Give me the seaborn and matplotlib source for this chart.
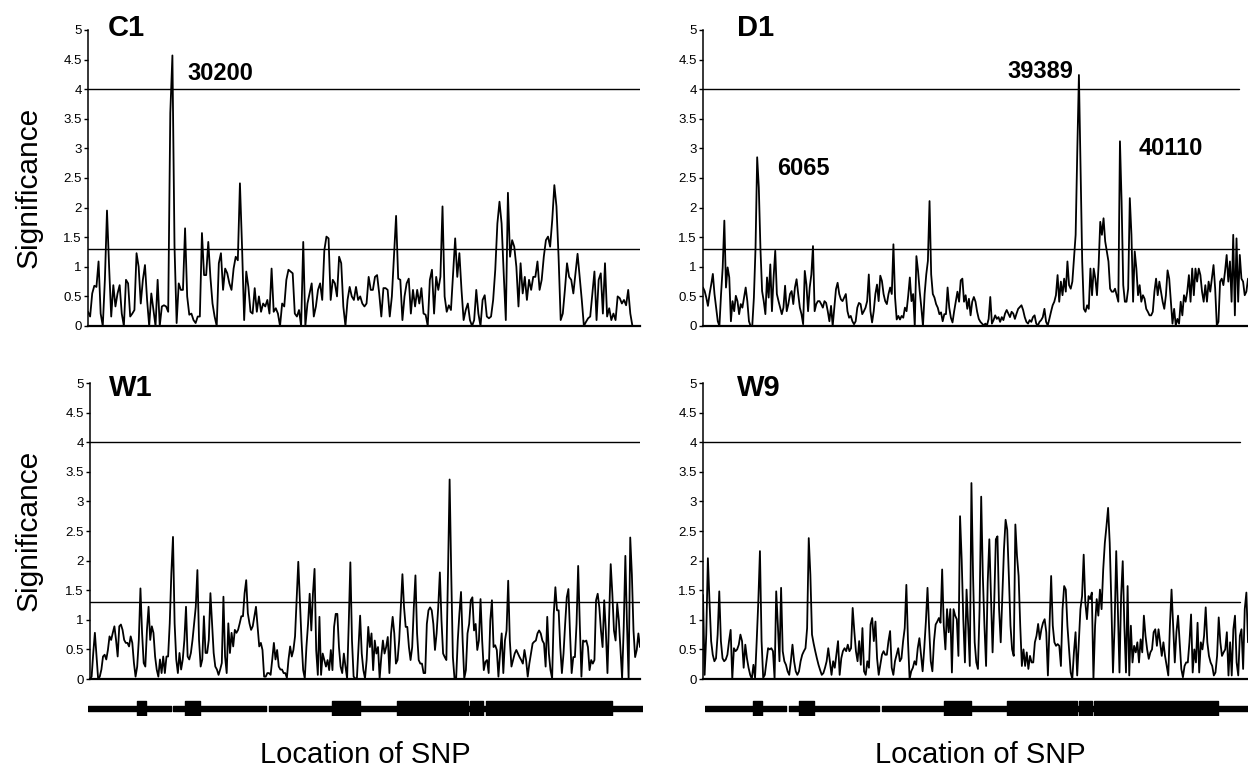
"""
Allelic association scans (C1, D1, W1, W9) along the gene.
Significance = -log10(p) per SNP, with the 1.3 and 4.0 thresholds,
and the exon/intron map of the gene under the bottom panels.
"""

import numpy as np
import matplotlib
matplotlib.use("Agg")
import matplotlib.pyplot as plt
import seaborn as sns

# --- significance per SNP, read left to right off the scans ---
C1_SIG = [
    0.24, 0.16, 0.55, 0.68, 0.66, 1.09, 0.21, 0, 0.78, 1.95, 1.0, 0.16, 0.69, 0.33, 0.55, 0.69,
    0.21, 0, 0.78, 0.72, 0.16, 0.21, 0.27, 1.23, 1.0, 0.38, 0.78, 1.03, 0.44, 0, 0.55, 0.27,
    0, 0.78, 0, 0.33, 0.35, 0.33, 0.24, 3.6, 4.57, 1.34, 0.05, 0.72, 0.61, 0.61, 1.65, 0.5,
    0.19, 0.21, 0.1, 0.05, 0.16, 0.16, 1.57, 0.86, 0.86, 1.42, 0.83, 0.38, 0.16, 0, 1.06, 1.23,
    0.61, 0.97, 0.89, 0.72, 0.61, 0.97, 1.17, 1.11, 2.41, 1.34, 0.1, 0.92, 0.66, 0.24, 0.21, 0.64,
    0.24, 0.5, 0.24, 0.38, 0.33, 0.44, 0.21, 0.97, 0.24, 0.3, 0.21, 0, 0.38, 0.33, 0.78, 0.95,
    0.92, 0.89, 0.21, 0.16, 0.27, 0, 1.42, 0, 0.38, 0.55, 0.72, 0.16, 0.33, 0.61, 0.72, 0.44,
    1.28, 1.51, 1.48, 0.44, 0.78, 0.72, 0.5, 1.17, 1.06, 0.33, 0, 0.44, 0.66, 0.5, 0.44,
    0.66, 0.44, 0.5, 0.38, 0.33, 0.38, 0.83, 0.61, 0.61, 0.83, 0.86, 0.55, 0.16, 0.64, 0.64, 0.61,
    0.16, 0.5, 1.17, 1.86, 0.8, 0.78, 0.1, 0.5, 0.72, 0.8, 0.21, 0.61, 0.33, 0.61, 0.38, 0.64,
    0.21, 0.19, 0, 0.78, 0.95, 0.21, 0.83, 0.61, 0.83, 2.02, 0.5, 0.24, 0.35, 0.27, 0.89, 1.48,
    0.83, 1.23, 0.61, 0.1, 0.27, 0.38, 0.1, 0, 0.1, 0.61, 0.21, 0, 0.44, 0.52, 0.16, 0.13,
    0.16, 0.44, 0.95, 1.73, 2.1, 1.73, 0.89, 0.1, 2.25, 1.17, 1.45, 1.34, 1.0, 0.33, 1.06, 0.55,
    0.83, 0.44, 0.78, 0.61, 0.83, 0.83, 1.09, 0.61, 0.78, 1.17, 1.45, 1.51, 1.34, 1.79, 2.38, 2.02,
    1.17, 0.1, 0.21, 0.61, 1.06, 0.83, 0.78, 0.55, 0.89, 1.22, 0.83, 0.44, 0, 0.07, 0.13, 0.16,
    0.55, 0.92, 0.1, 0.78, 0.89, 0.21, 1.06, 0.16, 0.3, 0.1, 0.21, 0.1, 0.5, 0.47, 0.38, 0.44,
    0.35, 0.61, 0.21, 0, 0,
]

D1_SIG = [
    0.65, 0.59, 0.48, 0.34, 0.54, 0.7, 0.88, 0.54, 0.31, 0.08, 0, 0.54, 0.99, 1.78, 0.65, 0.99,
    0.82, 0.08, 0.42, 0.25, 0.51, 0.42, 0.2, 0.37, 0.31, 0.48, 0.65, 0.42, 0.08, 0, 0, 0.48,
    1.32, 2.85, 2.34, 1.3, 0.59, 0.42, 0.2, 0.82, 0.48, 1.04, 0.25, 0.82, 1.27, 0.54, 0.42, 0.31,
    0.2, 0.31, 0.68, 0.25, 0.37, 0.54, 0.59, 0.37, 0.65, 0.79, 0.54, 0.31, 0.2, 0.03, 0.93, 0.7,
    0.25, 0.65, 0.87, 1.35, 0.25, 0.37, 0.42, 0.42, 0.37, 0.31, 0.42, 0.39, 0.25, 0.08, 0.34, 0,
    0.31, 0.62, 0.73, 0.54, 0.45, 0.42, 0.48, 0.54, 0.25, 0.14, 0.17, 0.08, 0.03, 0.08, 0.31, 0.39,
    0.37, 0.2, 0.25, 0.31, 0.42, 0.87, 0.25, 0.06, 0.25, 0.54, 0.7, 0.42, 0.85, 0.76, 0.54, 0.42,
    0.37, 0.54, 0.65, 0.54, 1.38, 0.48, 0.11, 0.17, 0.11, 0.17, 0.14, 0.31, 0.25, 0.51, 0.82, 0.42,
    0.54, 0, 1.18, 0.93, 0.59, 0.31, 0, 0.54, 0.87, 1.1, 2.11, 0.87, 0.54, 0.48, 0.37, 0.31,
    0.2, 0.23, 0.08, 0.2, 0.2, 0.65, 0.31, 0.14, 0.06, 0.25, 0.42,
    0.58, 0.41, 0.77, 0.8, 0.41, 0.52, 0.29, 0.46, 0.18, 0.41, 0.49, 0.41, 0.24, 0.12, 0.07, 0.04,
    0.01, 0.04, 0.01, 0.12, 0.49, 0.04, 0.1, 0.18, 0.12, 0.15, 0.07, 0.15, 0.1, 0.21, 0.27, 0.21,
    0.15, 0.24, 0.21, 0.12, 0.21, 0.29, 0.32, 0.35, 0.27, 0.15, 0.07, 0.04, 0.1, 0.07, 0.15, 0.18,
    0.04, 0.01, 0.07, 0.1, 0.15, 0.29, 0.07, 0.01, 0.12, 0.24, 0.35, 0.41, 0.52, 0.86, 0.41, 0.75,
    0.52, 0.8, 0.58, 1.09, 0.69, 0.63, 0.75, 1.14, 1.54, 2.95, 4.24, 2.67, 1.09, 0.29, 0.24, 0.35,
    0.29, 0.97, 0.52, 0.97, 0.8, 0.52, 1.03, 1.76, 1.54, 1.82, 1.43, 1.26, 1.09, 0.63, 0.58, 0.58,
    0.63, 0.52, 0.41, 3.12, 2.1, 0.69, 0.41, 0.41, 0.63, 2.16, 1.54, 0.41, 1.26, 0.97, 0.52, 0.69,
    0.41, 0.52, 0.46, 0.29, 0.24, 0.18, 0.18, 0.24, 0.58, 0.8, 0.52, 0.75, 0.58, 0.41, 0.29, 0.52,
    0.94, 0.8, 0.41, 0.04, 0.29, 0.01, 0.12, 0.04, 0.41, 0.18, 0.52, 0.41, 0.58, 0.86, 0.41, 0.97,
    0.52, 0.97, 0.75, 0.97, 0.86, 0.58, 0.41, 0.69, 0.41, 0.75, 0.58, 0.8, 1.03, 0.63, 0.01, 0.07,
    0.75, 0.8, 0.69, 0.92, 1.2, 0.75, 1.09, 0.41, 1.54, 0.18, 1.48, 0.41, 1.2, 0.8, 0.75, 0.52,
    0.58, 0.8,
]

W1_SIG = [
    0, 0.04, 0.44, 0.78, 0.38, 0, 0.04, 0.16, 0.38, 0.41, 0.33, 0.49, 0.72, 0.66, 0.78, 0.89,
    0.66, 0.38, 0.89, 0.92, 0.83, 0.66, 0.61, 0.61, 0.55, 0.72, 0.61, 0.27, 0.04, 0.21, 0.66, 1.53,
    0.78, 0.27, 0.21, 0.83, 1.22, 0.66, 0.89, 0.78, 0.38, 0.16, 0.04, 0.33, 0.1, 0.38, 0.1, 0.38,
    0.38, 0.94, 1.79, 2.4, 0.94, 0.33, 0.1, 0.44, 0.16, 0.33, 0.66, 1.22, 0.38, 0.33, 0.44, 0.66,
    0.94, 1.22, 1.84, 0.66, 0.21, 0.33, 1.06, 0.44, 0.44, 0.66, 1.45, 0.94, 0.44, 0.21, 0.16, 0.07,
    0.16, 0.27, 1.39, 0.38, 0.1, 0.94, 0.44, 0.78, 0.55, 0.83, 0.78, 0.83, 0.94, 1.06, 1.06, 1.45,
    1.67, 1.11, 0.94, 0.83, 0.89, 1.06, 1.22, 0.89, 0.55, 0.61, 0.49, 0.04, 0.04, 0.1, 0.1, 0.07,
    0.33, 0.61, 0.33, 0.49, 0.21, 0.16, 0.16, 0.1, 0.1, 0.02, 0.33, 0.55, 0.38, 0.49, 0.72, 1.34,
    1.98,
    1.33, 0.65, 0.15, 0.01, 0.54, 0.93, 1.44, 0.82, 1.44, 1.86, 0.49, 0.07, 1.05, 0.07, 0.43, 0.32,
    0.21, 0.32, 0.15, 0.49, 0.15, 0.88, 1.1, 1.1, 0.54, 0.21, 0.1, 0.43, 0.21, 0.01, 0.93, 1.97,
    0.65, 0.04, 0.01, 0, 0.54, 1.07, 0.43, 0.15, 0.01, 0.32, 0.88, 0.54, 0.77, 0.15, 0.65, 0.43,
    0.54, 0.01, 0.37, 0.65, 0.43, 0.54, 0.71, 0.1, 0.77, 1.05, 0.77, 0.26, 0.32, 0.65, 1.21, 1.77,
    1.21, 0.88, 0.88, 0.54, 0.32, 0.54, 1.21, 1.75, 0.77, 0.32, 0.26, 0.26, 0.1, 0.1, 0.93, 1.16,
    1.21, 1.16, 0.93, 0.49, 0.77, 1.21, 1.8, 0.99, 0.43, 0.37, 0.32, 1.77, 3.37, 1.77, 0.37, 0.01,
    0, 0.65, 1.1, 1.47, 0.65, 0.01, 0.15, 0.77, 0.93, 1.33, 1.38, 0.82, 0.93, 0.49, 0.65, 1.35,
    0.65, 0.15, 0.29, 0.32, 0.1, 0.99, 1.33, 0.54, 0.57, 0.49, 0.04, 0.43, 0.77, 0.1, 0.65, 0.82,
    1.66, 0.65, 0.21, 0.32, 0.43, 0.49, 0.43, 0.37, 0.32, 0.26, 0.49, 0.32, 0.04, 0.26, 0.43, 0.6,
    0.63, 0.65, 0.77, 0.82, 0.77, 0.65, 0.6, 0.21, 1.05, 0.43, 0.15, 0.01, 1.1, 1.55, 1.16, 1.16,
    0.54, 0.1, 0.43, 0.93, 1.38, 1.52, 0.77, 0.1, 0.37, 0.37, 0.93, 1.91, 0.93, 0.04, 0.65, 0.63,
    0.65, 0.54, 0.15, 0.32, 0.26, 0.32, 1.33, 1.44, 1.21, 0.82, 0.54, 1.33, 0.82, 0.1, 1.05, 1.94,
    1.44, 0.82, 0.65, 1.27, 0.99, 0.49, 0.01, 0.88, 2.08, 0.93, 0.01, 2.39, 1.77, 0.82, 0.37, 0.49,
    0.77, 0.54,
]

W9_SIG = [
    1.42, 0.07, 0.75, 2.04, 1.31, 0.64, 0.41, 0.3, 0.35, 0.75, 1.48, 0.64, 0.35, 0.3, 0.33, 0.41,
    0.64, 0.83, 0, 0.52, 0.47, 0.5, 0.58, 0.75, 0.64, 0.19, 0.58, 0.35, 0.19, 0.07, 0, 0.24,
    0.02, 0.64, 1.31, 2.16, 0.64, 0.02, 0.07, 0.3, 0.52, 0.5, 0.52, 0.47, 0, 1.48, 0.92, 0.3,
    1.54, 0.47, 0.3, 0.24, 0.13, 0.07, 0.3, 0.58, 0.3, 0.13, 0.07, 0.13, 0.3, 0.41, 0.47, 0.52,
    0.86, 2.38, 1.76, 0.75, 0.6, 0.47, 0.35, 0.24, 0.15, 0.07, 0.1, 0.19, 0.3, 0.52, 0.3, 0.07,
    0.3, 0.19, 0.41, 0.64, 0.07, 0.35, 0.47, 0.52, 0.47, 0.58, 0.47, 0.52, 1.2, 0.81, 0.47, 0.3,
    0.64, 0.24, 0.86, 0.13, 0.07, 0.3, 0.19, 0.92, 1.03, 0.64, 0.97, 0.35, 0.07, 0.24, 0.41, 0.47,
    0.41, 0.41, 0.64, 0.81, 0.19, 0.07, 0.3, 0.41, 0.52, 0.3, 0.35, 0.64, 0.86, 1.59, 0.64, 0,
    0.13, 0.19, 0.3, 0.24, 0.52, 0.69, 0.41, 0.13, 0.52, 0.97, 1.54, 0.86, 0.3, 0.13, 0.64, 0.92,
    0.97, 1.03,
    0.95, 1.85, 0.9, 0.5, 1.18, 0.79, 1.18, 0.11, 1.18, 1.07, 1.01, 0.39, 2.75, 2.02, 1.01, 0.28,
    1.51, 0.9, 0.22, 3.31, 1.74, 0.62, 0.28, 0.17, 1.18, 3.08, 1.74, 0.9, 0.22, 1.63, 2.36, 1.4,
    0.45, 1.29, 2.36, 2.41, 1.18, 0.62, 1.4, 2.19, 2.69, 2.52, 1.74, 0.9, 0.5, 0.39, 2.61, 2.08,
    1.74, 0.9, 0.22, 0.5, 0.22, 0.45, 0.17, 0.39, 0.28, 0.28, 0.62, 0.73, 0.93, 0.67, 0.84, 0.95,
    1.01, 0.79, 0.06, 0.9, 1.74, 0.9, 0.62, 0.56, 0.59, 0.56, 0.22, 1.18, 1.57, 1.51, 0.9, 0.5,
    0.11, 0, 0.45, 0.79, 0.06, 0.62, 1.18, 1.4, 2.1, 1.29, 1.01, 1.4, 1.35, 1.46, 0, 0.9,
    1.35, 1.07, 1.51, 1.18, 1.85, 2.3, 2.58, 2.89, 2.3, 1.29, 0.11, 0.9, 2.16, 1.18, 0.11, 1.4,
    1.99, 0.9, 0.11, 1.57, 0.06, 0.9, 0.28, 0.56, 0.45, 0.62, 0.28, 0.67, 0.45, 1.07, 0.73, 0.5,
    0.34, 0.45, 0.5, 0.79, 0.84, 0.56, 0.84, 0.62, 0.39, 0.62, 0.39, 0.22, 0.06, 0.9, 1.51, 0.9,
    0.28, 0.79, 1.07, 0.62, 0.17, 0.03, 0.22, 0.28, 0.28, 0.62, 1.09, 0.11, 0.5, 0.28, 0.95, 0.11,
    0.62, 0.5, 0.73, 1.21, 0.62, 0.39, 0.28, 0.22, 0.06, 0.11, 0.39, 1.04, 0.62, 0.39, 0.45, 0.5,
    0.79, 0.06, 0.62, 0.06, 0.84, 1.07, 0.28, 0.06, 0.73, 0.84, 0.17, 1.18, 1.46, 0.62,
]

THRESHOLDS = [4.0, 1.3]
Y_TICKS = [0, 0.5, 1, 1.5, 2, 2.5, 3, 3.5, 4, 4.5, 5]

# gene map, as fraction of the scanned region
EXON_STARTS = [0.089, 0.174, 0.440, 0.556, 0.689, 0.717]
EXON_ENDS = [0.105, 0.201, 0.490, 0.685, 0.712, 0.945]
INTRON_GAPS = [(0.149, 0.154), (0.320, 0.326)]

W, H = 1248, 778


def box(x0, y0, x1, y1):
    """pixel rectangle (top-left origin) -> figure fraction"""
    return [x0 / W, 1 - y1 / H, (x1 - x0) / W, (y1 - y0) / H]


def fpos(x, y):
    return x / W, 1 - y / H


sns.set_style("ticks")
plt.rcParams["font.family"] = ["Liberation Sans", "DejaVu Sans"]
plt.rcParams.update({
    "text.color": "black",
    "axes.edgecolor": "black",
    "xtick.color": "black",
    "ytick.color": "black",
})

fig = plt.figure(figsize=(W / 100, H / 100), dpi=100)

# name, values, axes box, x span factor, threshold line end
panels = [
    ("C1", C1_SIG, box(88, 30, 640, 326), 1.01, 1.0),
    ("D1", D1_SIG, box(703, 30, 1248, 326), 1.0, 0.983),
    ("W1", W1_SIG, box(90, 383, 640, 679), 1.0, 1.0),
    ("W9", W9_SIG, box(703, 383, 1248, 679), 1.0, 0.985),
]

for name, sig, rect, span, hl_end in panels:
    ax = fig.add_axes(rect)
    idx = np.arange(len(sig))
    sns.lineplot(x=idx, y=sig, ax=ax, color="black", linewidth=1.3, estimator=None)
    for t in THRESHOLDS:
        ax.axhline(t, xmin=0, xmax=hl_end, color="black", linewidth=1.0)
    ax.set_xlim(0, (len(sig) - 1) * span)
    ax.set_ylim(0, 5)
    ax.set_yticks(Y_TICKS)
    ax.set_yticklabels([f"{v:g}" for v in Y_TICKS])
    ax.set_xticks([])
    ax.set_xlabel("")
    ax.set_ylabel("")
    ax.tick_params(axis="y", direction="out", length=3, width=1, pad=1.5,
                   labelsize=9.5, labelcolor="black")
    ax.spines[["top", "right"]].set_visible(False)
    ax.spines["left"].set_linewidth(1.1)
    ax.spines["bottom"].set_linewidth(1.6)
    ax.patch.set_alpha(0)

# panel titles
for name, (x, y) in {"C1": (108, 36), "D1": (737, 36), "W1": (109, 396), "W9": (737, 396)}.items():
    fig.text(*fpos(x, y), name, fontsize=21, fontweight="bold", ha="left", va="baseline")

# SNP labels next to the strongest peaks
for lab, (x, y) in {"30200": (187, 80), "6065": (777, 175),
                    "39389": (1007, 78), "40110": (1139, 155)}.items():
    fig.text(*fpos(x, y), lab, fontsize=17, fontweight="bold", ha="left", va="baseline")

for yc in (187, 530):
    fig.text(*fpos(29, yc), "Significance", fontsize=21.5, rotation=90, ha="center", va="center")
for xc in (365, 980):
    fig.text(*fpos(xc, 755), "Location of SNP", fontsize=21, ha="center", va="center")

# gene structure under the bottom panels
introns = []
start = 0.0
for g0, g1 in INTRON_GAPS:
    introns.append((start, g0 - start))
    start = g1
introns.append((start, 1.0 - start))
exons = [(s, e - s) for s, e in zip(EXON_STARTS, EXON_ENDS)]

for rect in (box(88, 700, 643, 716), box(705, 700, 1248, 716)):
    gx = fig.add_axes(rect)
    gx.broken_barh(introns, (5.5, 5), color="black")
    gx.broken_barh(exons, (0.5, 15), color="black")
    gx.set_xlim(0, 1)
    gx.set_ylim(0, 16)
    gx.axis("off")

fig.savefig("out.png", dpi=100)
